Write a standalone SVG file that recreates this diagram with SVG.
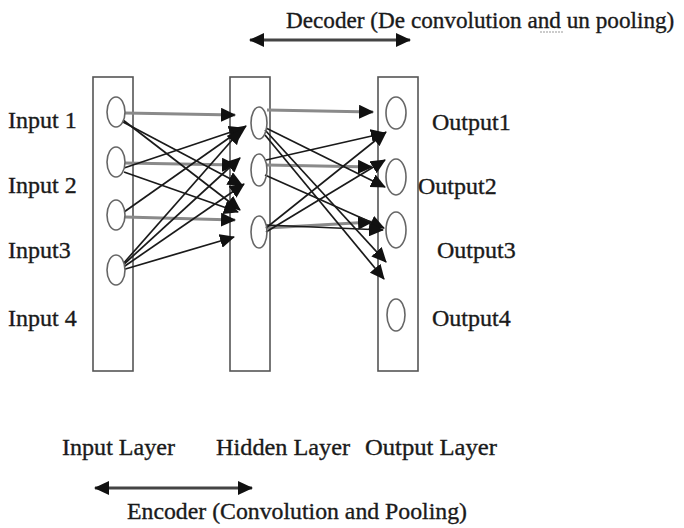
<svg xmlns="http://www.w3.org/2000/svg" width="684" height="528" viewBox="0 0 684 528">
  <style>
    .label { font-family: "Liberation Serif", "Times New Roman", serif; font-size: 24px; fill: #1a1a1a; stroke: #1a1a1a; stroke-width: 0.35; }
    .title { font-size: 23.2px; }
    .layer { fill: #ffffff; stroke: #555555; stroke-width: 1.6; }
    .unit { fill: #ffffff; stroke: #666666; stroke-width: 1.6; }
    .edge { stroke: #1a1a1a; stroke-width: 1.7; fill: none; marker-end: url(#head); }
    .edge-grey { stroke: #8a8a8a; stroke-width: 3.2; fill: none; marker-end: url(#head); }
    .span { stroke: #444444; stroke-width: 3; fill: none; marker-start: url(#headStart); marker-end: url(#head); }
  </style>
  <defs>
    <marker id="head" markerUnits="userSpaceOnUse" markerWidth="16" markerHeight="14" refX="14" refY="7" orient="auto">
      <path d="M0,0 L15,7 L0,14 Z" fill="#111111"/>
    </marker>
    <marker id="headStart" markerUnits="userSpaceOnUse" markerWidth="16" markerHeight="14" refX="1" refY="7" orient="auto">
      <path d="M15,0 L0,7 L15,14 Z" fill="#111111"/>
    </marker>
  </defs>

  <rect width="684" height="528" fill="#ffffff"/>

  <!-- decoder span -->
  <g id="decoder">
    <line class="span" x1="250" y1="40" x2="410" y2="40"/>
    <text class="label title" x="286" y="28">Decoder (De convolution and un pooling)</text>
    <line x1="540" y1="32" x2="564" y2="32" stroke="#999999" stroke-width="1.2" stroke-dasharray="2 1"/>
  </g>

  <!-- layer columns -->
  <g id="input-layer">
    <rect class="layer" x="93" y="77" width="40" height="294"/>
    <text class="label" x="62" y="455" textLength="113" lengthAdjust="spacingAndGlyphs">Input Layer</text>
  </g>
  <g id="hidden-layer">
    <rect class="layer" x="230" y="77" width="40" height="294"/>
    <text class="label" x="216" y="455" textLength="134" lengthAdjust="spacingAndGlyphs">Hidden Layer</text>
  </g>
  <g id="output-layer">
    <rect class="layer" x="378" y="77" width="40" height="294"/>
    <text class="label" x="365" y="455" textLength="132" lengthAdjust="spacingAndGlyphs">Output Layer</text>
  </g>

  <!-- connectors -->
  <g id="connectors">
    <!-- input to hidden -->
    <line class="edge-grey" x1="125" y1="113" x2="235" y2="115"/>
    <line class="edge-grey" x1="125" y1="163" x2="236" y2="165"/>
    <line class="edge-grey" x1="125" y1="217" x2="235" y2="220"/>
    <line class="edge" x1="123" y1="120" x2="240" y2="210"/>
    <line class="edge" x1="123" y1="122" x2="242" y2="185"/>
    <line class="edge" x1="124" y1="168" x2="243" y2="128"/>
    <line class="edge" x1="124" y1="172" x2="238" y2="212"/>
    <line class="edge" x1="124" y1="212" x2="246" y2="126"/>
    <line class="edge" x1="122" y1="265" x2="241" y2="130"/>
    <line class="edge" x1="122" y1="266" x2="240" y2="158"/>
    <line class="edge" x1="122" y1="268" x2="244" y2="184"/>
    <line class="edge" x1="122" y1="270" x2="234" y2="237"/>
    <!-- hidden to output -->
    <line class="edge-grey" x1="267" y1="110" x2="373" y2="112"/>
    <line class="edge-grey" x1="267" y1="165" x2="372" y2="167"/>
    <line class="edge-grey" x1="267" y1="228" x2="372" y2="222"/>
    <line class="edge" x1="265" y1="130" x2="386" y2="262"/>
    <line class="edge" x1="265" y1="135" x2="384" y2="279"/>
    <line class="edge" x1="266" y1="128" x2="385" y2="187"/>
    <line class="edge" x1="265" y1="175" x2="384" y2="228"/>
    <line class="edge" x1="266" y1="160" x2="385" y2="133"/>
    <line class="edge" x1="266" y1="228" x2="386" y2="132"/>
    <line class="edge" x1="266" y1="232" x2="385" y2="160"/>
    <line class="edge" x1="266" y1="225" x2="383" y2="230"/>
  </g>

  <!-- input units -->
  <g id="input-1">
    <ellipse class="unit" cx="116" cy="112" rx="9" ry="15"/>
    <text class="label" x="8" y="128">Input 1</text>
  </g>
  <g id="input-2">
    <ellipse class="unit" cx="116" cy="162" rx="9" ry="15"/>
    <text class="label" x="8" y="193">Input 2</text>
  </g>
  <g id="input-3">
    <ellipse class="unit" cx="116" cy="215" rx="9" ry="15"/>
    <text class="label" x="8" y="258">Input3</text>
  </g>
  <g id="input-4">
    <ellipse class="unit" cx="116" cy="270" rx="9" ry="15"/>
    <text class="label" x="8" y="326">Input 4</text>
  </g>

  <!-- hidden units -->
  <g id="hidden-1">
    <ellipse class="unit" cx="259" cy="123" rx="8" ry="16" fill-opacity="0"/>
  </g>
  <g id="hidden-2">
    <ellipse class="unit" cx="259" cy="170" rx="8" ry="16" fill-opacity="0"/>
  </g>
  <g id="hidden-3">
    <ellipse class="unit" cx="259" cy="232" rx="8" ry="16" fill-opacity="0"/>
  </g>

  <!-- output units -->
  <g id="output-1">
    <ellipse class="unit" cx="396" cy="113" rx="10" ry="16" fill-opacity="0"/>
    <text class="label" x="432" y="130">Output1</text>
  </g>
  <g id="output-2">
    <ellipse class="unit" cx="396" cy="177" rx="10" ry="18" fill-opacity="0"/>
    <text class="label" x="418" y="194">Output2</text>
  </g>
  <g id="output-3">
    <ellipse class="unit" cx="396" cy="230" rx="10" ry="18" fill-opacity="0"/>
    <text class="label" x="437" y="258">Output3</text>
  </g>
  <g id="output-4">
    <ellipse class="unit" cx="396" cy="315" rx="9" ry="16"/>
    <text class="label" x="432" y="326">Output4</text>
  </g>

  <!-- encoder span -->
  <g id="encoder">
    <line class="span" x1="95" y1="488" x2="252" y2="488"/>
    <text class="label" x="127" y="519" textLength="340" lengthAdjust="spacingAndGlyphs">Encoder (Convolution and Pooling)</text>
  </g>
</svg>
